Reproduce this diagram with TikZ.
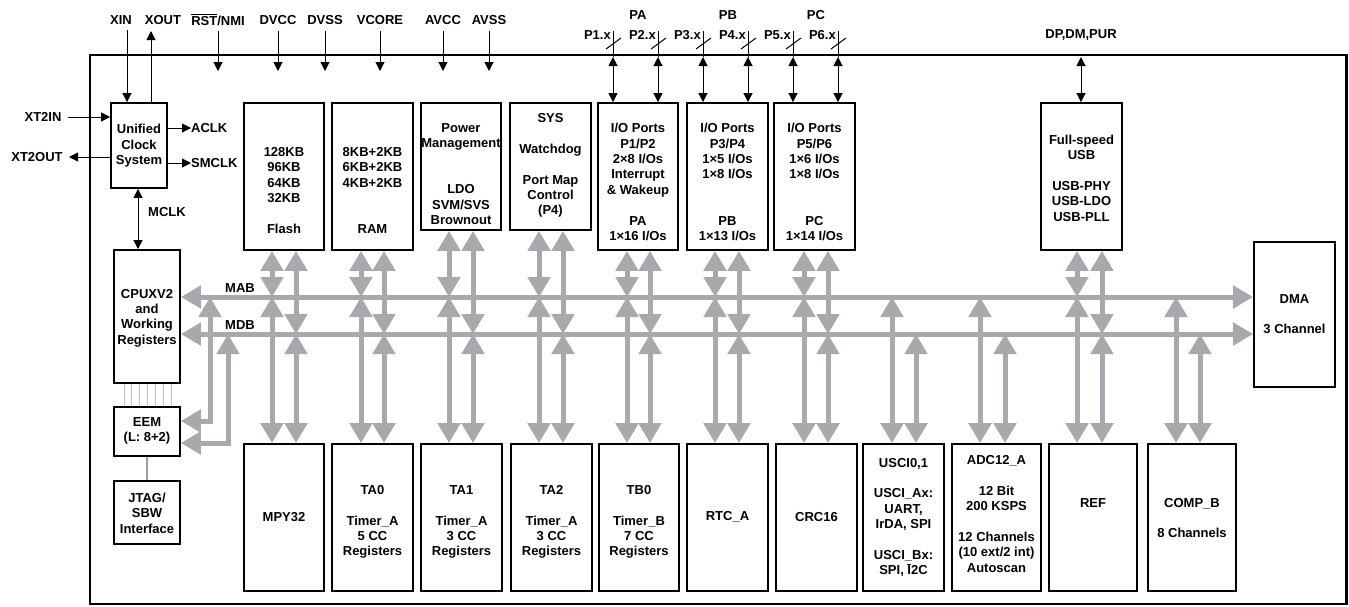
\documentclass[tikz,border=0pt]{standalone}
\usepackage{fontspec}
\setmainfont{Liberation Sans}
\usetikzlibrary{arrows.meta}
\definecolor{busgray}{HTML}{A7A9AC}
\definecolor{thingray}{HTML}{C4C4C4}
\newsavebox\myovlbox
\newcommand\myovl[1]{\sbox\myovlbox{#1}\rlap{\rule[\dimexpr\ht\myovlbox+1.3pt\relax]{\wd\myovlbox}{1pt}}\usebox\myovlbox}
\newcommand\blk[7]{%
  \node[box, minimum width={#4-#2}, minimum height={#5-#3}] (#1) at ({(#2+#4)/2},{(#3+#5)/2}) {};
  \node[txt] (#1t) at ({(#2+#4)/2},#6) {#7};}
\tikzset{
  box/.style={draw, line width=1.8pt, inner sep=0pt},
  txt/.style={align=center, inner sep=0pt},
  lbl/.style={inner sep=0pt},
  sig/.style={line width=1pt, -{Triangle[length=9pt,width=9pt]}},
  sigb/.style={line width=1pt, {Triangle[length=9pt,width=9pt]}-{Triangle[length=9pt,width=9pt]}},
  gbus/.style={draw=busgray, line width=5pt, {Triangle[length=20pt,width=22pt]}-{Triangle[length=20pt,width=22pt]}},
}
\begin{document}
\begin{tikzpicture}[x=1pt,y=-1pt,font=\fontsize{13}{15.4}\selectfont\bfseries]
\path[use as bounding box] (0,0) rectangle (1349,606);
% frame
\draw[line width=2.5pt] (90,55) rectangle (1346.5,604);

% blocks
\blk{clk}{111}{103}{167}{188}{146}{Unified\\Clock\\System}
\blk{flash}{244}{103}{324}{250}{190.5}{128KB\\96KB\\64KB\\32KB\\[15.4pt]Flash}
\blk{ram}{332}{103}{413}{250}{190.5}{8KB+2KB\\6KB+2KB\\4KB+2KB\\[30.8pt]RAM}
\blk{pmm}{421}{103}{501}{230}{174}{Power\\Management\\[30.8pt]LDO\\SVM/SVS\\Brownout}
\blk{sys}{510}{103}{591}{230}{165.5}{SYS\\[15.4pt]Watchdog\\[15.4pt]Port Map\\Control\\(P4)}
\blk{pa}{598}{103}{678}{250}{182}{I/O Ports\\P1/P2\\2×8 I/Os\\Interrupt\\\& Wakeup\\[15.4pt]PA\\1×16 I/Os}
\blk{pb}{687}{103}{768}{250}{182}{I/O Ports\\P3/P4\\1×5 I/Os\\1×8 I/Os\\[30.8pt]PB\\1×13 I/Os}
\blk{pc}{774}{103}{855}{250}{182}{I/O Ports\\P5/P6\\1×6 I/Os\\1×8 I/Os\\[30.8pt]PC\\1×14 I/Os}
\blk{usb}{1041}{103}{1122}{250}{178}{Full-speed\\USB\\[15.4pt]USB-PHY\\USB-LDO\\USB-PLL}
\blk{dma}{1254}{242}{1335}{387}{314}{DMA\\[15.4pt]3 Channel}
\blk{cpu}{114}{250}{180}{383}{318}{CPUXV2\\and\\Working\\Registers}
\blk{eem}{114}{407}{180}{456}{431}{EEM\\(L: 8+2)}
\blk{jtag}{114}{481}{180}{544}{513}{JTAG/\\SBW\\Interface}
\blk{mpy}{244}{444}{324}{591}{517}{MPY32}
\blk{ta0}{332}{444}{413}{591}{522}{TA0\\[15.4pt]Timer\_A\\5 CC\\Registers}
\blk{ta1}{421}{444}{502}{591}{522}{TA1\\[15.4pt]Timer\_A\\3 CC\\Registers}
\blk{ta2}{511}{444}{592}{591}{522}{TA2\\[15.4pt]Timer\_A\\3 CC\\Registers}
\blk{tb0}{599}{444}{679}{591}{522}{TB0\\[15.4pt]Timer\_B\\7 CC\\Registers}
\blk{rtc}{687}{444}{768}{591}{517}{RTC\_A}
\blk{crc}{776}{444}{857}{591}{517}{CRC16}
\blk{usci}{863}{444}{944}{591}{517.5}{USCI0,1\\[15.4pt]USCI\_Ax:\\UART,\\IrDA, SPI\\[15.4pt]USCI\_Bx:\\SPI, \myovl{I}2C}
\blk{adc}{952}{444}{1041}{591}{514}{ADC12\_A\\[15.4pt]12 Bit\\200 KSPS\\[15.4pt]12 Channels\\(10 ext/2 int)\\Autoscan}
\blk{ref}{1049}{444}{1137}{591}{503}{REF}
\blk{comp}{1148}{444}{1236}{591}{518}{COMP\_B\\[15.4pt]8 Channels}

% top labels
\node[lbl] (xin) at (121,20) {XIN};
\node[lbl] (xout) at (163,20) {XOUT};
\node[lbl] (rst) at (218,20) {\myovl{RST}/NMI};
\node[lbl] (dvcc) at (278,20) {DVCC};
\node[lbl] (dvss) at (325,20) {DVSS};
\node[lbl] (vcore) at (380,20) {VCORE};
\node[lbl] (avcc) at (443,20) {AVCC};
\node[lbl] (avss) at (489,20) {AVSS};
\node[lbl] (pal) at (638,15) {PA};
\node[lbl] (pbl) at (728,15) {PB};
\node[lbl] (pcl) at (816,15) {PC};
\node[lbl] (usbl) at (1081,35) {DP,DM,PUR};

% clock signals
\draw[sig] (127,30) -- (clk.north -| 127,0);
\draw[sig] (clk.north -| 151,0) -- (151,31);
\node[lbl] (xt2in) at (43,117) {XT2IN};
\node[lbl] (xt2out) at (37,157) {XT2OUT};
\draw[sig] (68,117) -- (clk.west |- 0,117);
\draw[sig] (clk.west |- 0,157) -- (69,157);
\node[lbl,anchor=west] (aclk) at (191,128) {ACLK};
\node[lbl,anchor=west] (smclk) at (191,163) {SMCLK};
\draw[sig] (clk.east |- aclk) -- (aclk.west);
\draw[sig] (clk.east |- smclk) -- (smclk.west);
\draw[sigb] (clk.south -| 138,0) -- (cpu.north -| 138,0);
\node[lbl,anchor=west] (mclk) at (148,212) {MCLK};

% supply arrows
\foreach \x in {218,278,325,380,443,489} \draw[sig] (\x,31) -- (\x,71);

% port arrows
\foreach \x/\t/\n in {613/pa/1,658/pa/2,703/pb/3,748/pb/4,793/pc/5,838/pc/6} {
  \node[lbl,anchor=east] (p\n) at ({\x-2},35) {P\n.x};
  \draw[line width=1pt] (\x,31) -- (\x,57);
  \draw[sigb] (\x,57) -- (\t.north -| \x,0);
  \draw[line width=1pt] ({\x-7},49) -- ({\x+8},38);
}
\draw[sigb] (1081,57) -- (usb.north -| 1081,0);

% buses
\coordinate (mab) at (0,297);
\coordinate (mdb) at (0,334);
\draw[gbus] (cpu.east |- mab) -- (dma.west |- mab);
\draw[gbus] (cpu.east |- mdb) -- (dma.west |- mdb);
\node[lbl] (mabl) at (240,288) {MAB};
\node[lbl] (mdbl) at (240,325) {MDB};

\foreach \x/\t/\b in {272/flash/mab,296/flash/mdb,361/ram/mab,384/ram/mdb,449/pmm/mab,473/pmm/mdb,539/sys/mab,563/sys/mdb,627/pa/mab,650/pa/mdb,715/pb/mab,739/pb/mdb,804/pc/mab,828/pc/mdb,1077/usb/mab,1102/usb/mdb}
  \draw[gbus] (\t.south -| \x,0) -- (\b -| \x,0);
\foreach \x/\t/\b in {272/mpy/mab,296/mpy/mdb,361/ta0/mab,384/ta0/mdb,449/ta1/mab,473/ta1/mdb,539/ta2/mab,563/ta2/mdb,627/tb0/mab,650/tb0/mdb,715/rtc/mab,739/rtc/mdb,804/crc/mab,828/crc/mdb,892/usci/mab,916/usci/mdb,980/adc/mab,1005/adc/mdb,1077/ref/mab,1102/ref/mdb,1176/comp/mab,1200/comp/mdb}
  \draw[gbus] (\b -| \x,0) -- (\t.north -| \x,0);

% EEM links
\draw[gbus] (mab -| 210,0) -- (210,421) -- (eem.east |- 0,421);
\draw[gbus] (mdb -| 228,0) -- (228,443) -- (eem.east |- 0,443);
\foreach \x in {124,131.8,139.6,147.4,155.2,163,171}
  \draw[thingray, line width=1pt] (cpu.south -| \x,0) -- (eem.north -| \x,0);
\draw[thingray!80!black, line width=1.5pt] (eem.south) -- (jtag.north);
\end{tikzpicture}
\end{document}
